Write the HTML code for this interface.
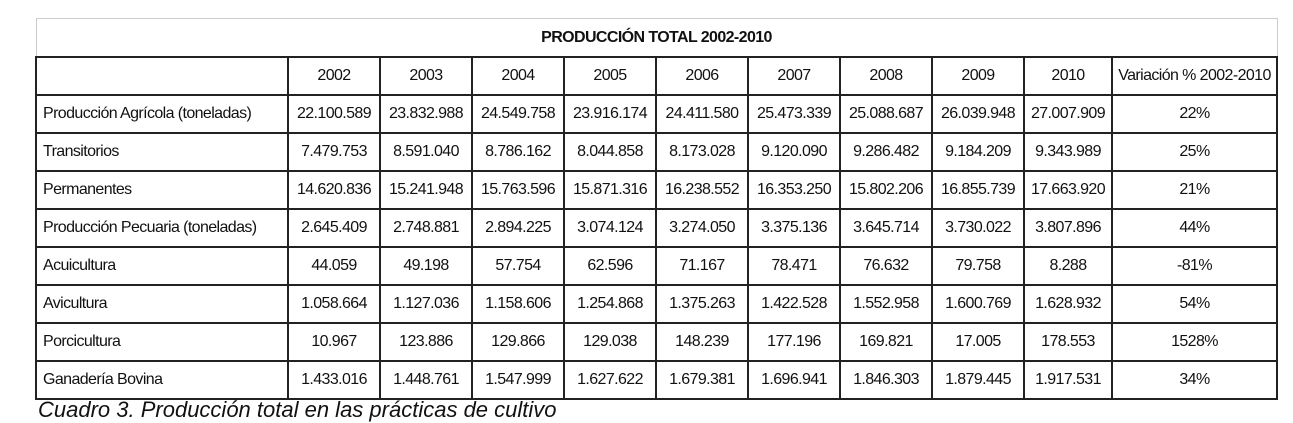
<!DOCTYPE html>
<html><head><meta charset="utf-8"><style>
body{margin:0;width:1293px;height:409px;background:#fff;overflow:hidden;position:relative;font-family:"Liberation Sans",sans-serif;}
.t{position:absolute;left:35px;top:18px;border-collapse:collapse;table-layout:fixed;}
.t td{border:2px solid #222;height:36px;padding:0;text-align:center;font-size:16px;letter-spacing:-0.6px;color:#111;white-space:nowrap;overflow:hidden;}
.t td.l{text-align:left;padding-left:6px;}
.t tr.title td{border:1px solid #ccc;border-bottom:2px solid #222;height:37px;font-weight:bold;font-size:16px;}
.cap{position:absolute;left:38px;top:397px;font-style:italic;font-size:22px;color:#111;white-space:nowrap;}
</style></head><body>
<table class="t">
<colgroup><col style="width:252px"><col style="width:92px"><col style="width:92px"><col style="width:92px"><col style="width:92px"><col style="width:92px"><col style="width:92px"><col style="width:92px"><col style="width:92px"><col style="width:88px"><col style="width:165px"></colgroup>
<tr class="title"><td colspan="11">PRODUCCIÓN TOTAL 2002-2010</td></tr>
<tr><td></td><td>2002</td><td>2003</td><td>2004</td><td>2005</td><td>2006</td><td>2007</td><td>2008</td><td>2009</td><td>2010</td><td>Variación % 2002-2010</td></tr>
<tr><td class="l">Producción Agrícola (toneladas)</td><td>22.100.589</td><td>23.832.988</td><td>24.549.758</td><td>23.916.174</td><td>24.411.580</td><td>25.473.339</td><td>25.088.687</td><td>26.039.948</td><td>27.007.909</td><td>22%</td></tr>
<tr><td class="l">Transitorios</td><td>7.479.753</td><td>8.591.040</td><td>8.786.162</td><td>8.044.858</td><td>8.173.028</td><td>9.120.090</td><td>9.286.482</td><td>9.184.209</td><td>9.343.989</td><td>25%</td></tr>
<tr><td class="l">Permanentes</td><td>14.620.836</td><td>15.241.948</td><td>15.763.596</td><td>15.871.316</td><td>16.238.552</td><td>16.353.250</td><td>15.802.206</td><td>16.855.739</td><td>17.663.920</td><td>21%</td></tr>
<tr><td class="l">Producción Pecuaria (toneladas)</td><td>2.645.409</td><td>2.748.881</td><td>2.894.225</td><td>3.074.124</td><td>3.274.050</td><td>3.375.136</td><td>3.645.714</td><td>3.730.022</td><td>3.807.896</td><td>44%</td></tr>
<tr><td class="l">Acuicultura</td><td>44.059</td><td>49.198</td><td>57.754</td><td>62.596</td><td>71.167</td><td>78.471</td><td>76.632</td><td>79.758</td><td>8.288</td><td>-81%</td></tr>
<tr><td class="l">Avicultura</td><td>1.058.664</td><td>1.127.036</td><td>1.158.606</td><td>1.254.868</td><td>1.375.263</td><td>1.422.528</td><td>1.552.958</td><td>1.600.769</td><td>1.628.932</td><td>54%</td></tr>
<tr><td class="l">Porcicultura</td><td>10.967</td><td>123.886</td><td>129.866</td><td>129.038</td><td>148.239</td><td>177.196</td><td>169.821</td><td>17.005</td><td>178.553</td><td>1528%</td></tr>
<tr><td class="l">Ganadería Bovina</td><td>1.433.016</td><td>1.448.761</td><td>1.547.999</td><td>1.627.622</td><td>1.679.381</td><td>1.696.941</td><td>1.846.303</td><td>1.879.445</td><td>1.917.531</td><td>34%</td></tr>
</table>
<div class="cap">Cuadro 3. Producción total en las prácticas de cultivo</div>
</body></html>
